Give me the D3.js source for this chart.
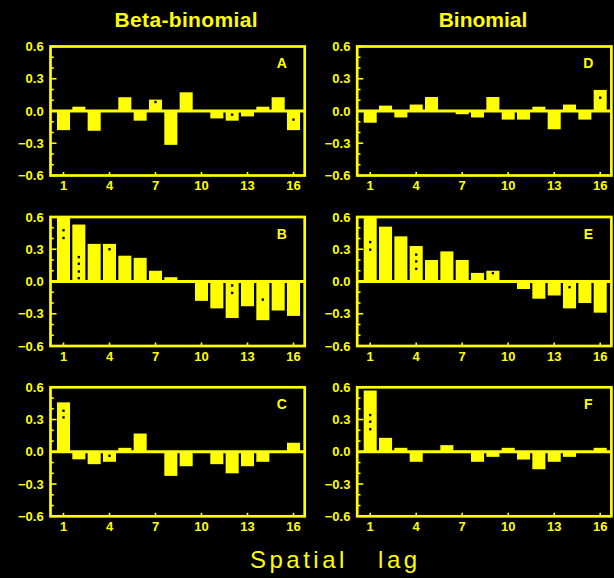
<!DOCTYPE html>
<html>
<head>
<meta charset="utf-8">
<script src="https://cdn.jsdelivr.net/npm/d3@7"></script>
<style>
  html, body { margin: 0; padding: 0; background: #000; }
  svg { display: block; }
  text { font-family: "Liberation Sans", Arial, sans-serif; fill: #ffff00; }
</style>
</head>
<body>
<svg id="chart" width="614" height="578"></svg>
<script>
// ---------------- DATA ----------------
const lags = [1, 2, 3, 4, 5, 6, 7, 8, 9, 10, 11, 12, 13, 14, 15, 16];
const xTickLags = [1, 4, 7, 10, 13, 16];
const xTickLabels = ["1", "4", "7", "10", "13", "16"];
const yTickValues = [0.6, 0.3, 0.0, -0.3, -0.6];
const yTickLabels = ["0.6", "0.3", "0.0", "\u22120.3", "\u22120.6"];
const yMinorTicks = [0.5, 0.4, 0.2, 0.1, -0.1, -0.2, -0.4, -0.5];
const columnTitles = ["Beta-binomial", "Binomial"];
const xAxisTitle = "Spatial lag";
const panelLetters = ["A", "B", "C", "D", "E", "F"];

// Beta-binomial column
const valuesA = [-0.178, 0.04, -0.184, 0.005, 0.128, -0.09, 0.106, -0.315, 0.174, 0.005, -0.069, -0.09, -0.05, 0.04, 0.128, -0.178];
const valuesB = [0.65, 0.53, 0.35, 0.35, 0.24, 0.22, 0.10, 0.04, 0.005, -0.18, -0.25, -0.34, -0.23, -0.36, -0.27, -0.32];
const valuesC = [0.46, -0.07, -0.115, -0.093, 0.037, 0.17, 0.005, -0.224, -0.134, 0.005, -0.115, -0.2, -0.134, -0.093, 0.005, 0.084];
// Binomial column
const valuesD = [-0.109, 0.05, -0.06, 0.06, 0.13, 0.005, -0.03, -0.06, 0.13, -0.08, -0.08, 0.04, -0.17, 0.06, -0.08, 0.196];
const valuesE = [0.62, 0.51, 0.42, 0.33, 0.20, 0.28, 0.20, 0.08, 0.10, 0.005, -0.07, -0.16, -0.13, -0.25, -0.20, -0.29];
const valuesF = [0.57, 0.13, 0.037, -0.093, 0.005, 0.062, 0.01, -0.093, -0.047, 0.037, -0.072, -0.162, -0.093, -0.047, 0.005, 0.037];

// significance dots: [lag, value]
const dotsA = [[7, 0.084], [12, -0.034], [16, -0.08]];
const dotsB = [[1, 0.477], [1, 0.405], [2, 0.227], [2, 0.165], [2, 0.093], [2, 0.031], [4, 0.30], [12, -0.037], [12, -0.106], [14, -0.168]];
const dotsC = [[1, 0.382], [1, 0.32], [4, -0.037]];
const dotsD = [[16, 0.124]];
const dotsE = [[1, 0.367], [1, 0.296], [4, 0.25], [4, 0.187], [4, 0.118], [9, 0.078], [14, -0.053]];
const dotsF = [[1, 0.342], [1, 0.28], [1, 0.21]];

// ---------------- LAYOUT ----------------
const W = 614, H = 578;
const YEL = "#ffff00";
const colLeft = [50.5, 357.2];
const panelW = 254.2;
const rowTop = [46.5, 217, 387.3];
const panelH = 129;

const panels = [
  { col: 0, row: 0, letter: panelLetters[0], values: valuesA, dots: dotsA },
  { col: 0, row: 1, letter: panelLetters[1], values: valuesB, dots: dotsB },
  { col: 0, row: 2, letter: panelLetters[2], values: valuesC, dots: dotsC },
  { col: 1, row: 0, letter: panelLetters[3], values: valuesD, dots: dotsD },
  { col: 1, row: 1, letter: panelLetters[4], values: valuesE, dots: dotsE },
  { col: 1, row: 2, letter: panelLetters[5], values: valuesF, dots: dotsF }
];

const svg = d3.select("#chart");
svg.append("rect").attr("width", W).attr("height", H).attr("fill", "#000");

panels.forEach(p => {
  const x0 = colLeft[p.col], y0 = rowTop[p.row];
  const x1 = x0 + panelW, y1 = y0 + panelH;
  const x = d3.scaleLinear().domain([1, 16]).range([x0 + 13, x1 - 11.2]);
  const y = d3.scaleLinear().domain([-0.6, 0.6]).range([y1, y0]).clamp(true);
  const step = x(2) - x(1);
  const barW = step - 2.3;

  const g = svg.append("g");

  // bars
  g.selectAll("rect.bar")
    .data(lags.map((l, i) => ({ lag: l, v: p.values[i] })))
    .join("rect")
    .attr("class", "bar")
    .attr("x", d => x(d.lag) - barW / 2)
    .attr("width", barW)
    .attr("y", d => Math.min(y(d.v), y(0)))
    .attr("height", d => Math.abs(y(d.v) - y(0)))
    .attr("fill", YEL);

  // dots
  g.selectAll("rect.dot")
    .data(p.dots)
    .join("rect")
    .attr("class", "dot")
    .attr("x", d => x(d[0]) - 1.2)
    .attr("y", d => y(d[1]) - 1.2)
    .attr("width", 2.4)
    .attr("height", 2.4)
    .attr("fill", "#000");

  // zero line
  g.append("line")
    .attr("x1", x0).attr("x2", x1)
    .attr("y1", y(0)).attr("y2", y(0))
    .attr("stroke", YEL).attr("stroke-width", 3);

  // frame
  g.append("rect")
    .attr("x", x0).attr("y", y0)
    .attr("width", panelW).attr("height", panelH)
    .attr("fill", "none").attr("stroke", YEL).attr("stroke-width", 2.7);

  // y minor ticks (inside)
  g.selectAll("line.ymin")
    .data(yMinorTicks)
    .join("line")
    .attr("x1", x0).attr("x2", x0 + 3.3)
    .attr("y1", d => y(d)).attr("y2", d => y(d))
    .attr("stroke", YEL).attr("stroke-width", 1.6);
  // y major ticks
  g.selectAll("line.ymaj")
    .data(yTickValues)
    .join("line")
    .attr("x1", x0).attr("x2", x0 + 6)
    .attr("y1", d => y(d)).attr("y2", d => y(d))
    .attr("stroke", YEL).attr("stroke-width", 1.6);

  // y tick labels
  g.selectAll("text.ylab")
    .data(yTickValues)
    .join("text")
    .attr("class", "ylab")
    .attr("x", x0 - 6.8)
    .attr("y", d => y(d))
    .attr("dy", "0.36em")
    .attr("text-anchor", "end")
    .attr("font-size", 13)
    .attr("font-weight", "bold")
    .text((d, i) => yTickLabels[i]);

  // x ticks (bottom, inside)
  g.selectAll("line.xt")
    .data(xTickLags)
    .join("line")
    .attr("x1", d => x(d)).attr("x2", d => x(d))
    .attr("y1", y1).attr("y2", y1 - 3.5)
    .attr("stroke", YEL).attr("stroke-width", 1.6);

  // x tick labels
  g.selectAll("text.xlab")
    .data(xTickLags)
    .join("text")
    .attr("class", "xlab")
    .attr("x", d => x(d))
    .attr("y", y1 + 14.8)
    .attr("text-anchor", "middle")
    .attr("font-size", 13)
    .attr("font-weight", "bold")
    .text((d, i) => xTickLabels[i]);

  // panel letter
  g.append("text")
    .attr("x", x1 - 23)
    .attr("y", y0 + 21.5)
    .attr("text-anchor", "middle")
    .attr("font-size", 14)
    .attr("font-weight", "bold")
    .text(p.letter);
});

// column titles
svg.append("text")
  .attr("x", 186).attr("y", 27)
  .attr("text-anchor", "middle")
  .attr("font-size", 21).attr("font-weight", "bold")
  .attr("textLength", 143).attr("lengthAdjust", "spacing")
  .text(columnTitles[0]);
svg.append("text")
  .attr("x", 483).attr("y", 27)
  .attr("text-anchor", "middle")
  .attr("font-size", 21).attr("font-weight", "bold")
  .text(columnTitles[1]);

// x axis title
svg.append("text")
  .attr("x", 250).attr("y", 568)
  .attr("font-size", 24)
  .style("letter-spacing", "3.5px")
  .style("word-spacing", "20px")
  .text(xAxisTitle);
</script>
</body>
</html>
